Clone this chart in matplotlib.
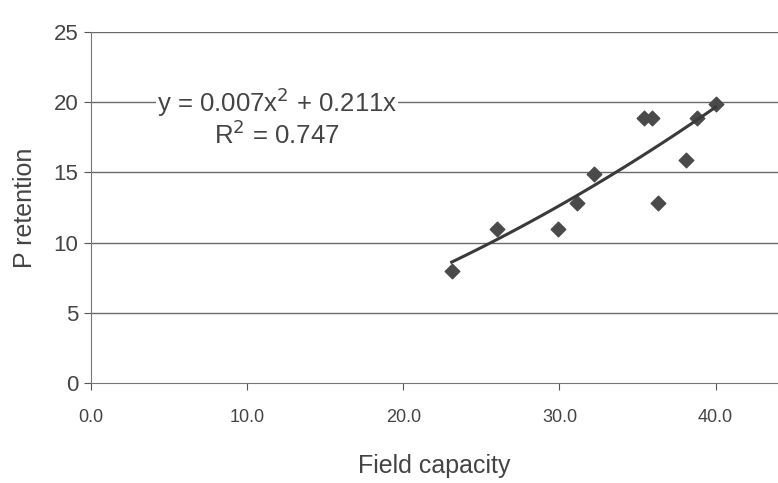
import numpy as np
import matplotlib.pyplot as plt

plt.rcParams['font.family'] = ['Liberation Sans Narrow', 'Liberation Sans', 'DejaVu Sans']

# data
field_capacity = [23.1, 26.0, 29.9, 31.1, 32.2, 35.4, 35.9, 36.3, 38.1, 38.8, 40.0]
p_retention = [8.0, 11.0, 11.0, 12.8, 14.9, 18.9, 18.9, 12.8, 15.9, 18.9, 19.9]
coef_a = 0.007
coef_b = 0.211
r_squared = 0.747

x_ticks = [0, 10, 20, 30, 40]
y_ticks = [0, 5, 10, 15, 20, 25]

fig = plt.figure(figsize=(7.78, 4.83), dpi=100)
ax = fig.add_axes([0.117, 0.207, 0.883, 0.727])

for yt in y_ticks[1:]:
    ax.axhline(yt, color='#6a6a6a', lw=1.0, zorder=1)

ax.scatter(field_capacity, p_retention, marker='D', s=55, color='#4a4a4a',
           edgecolors='#4a4a4a', zorder=3)

xs = np.linspace(min(field_capacity), max(field_capacity), 50)
ax.plot(xs, coef_a * xs ** 2 + coef_b * xs, color='#3a3a3a', lw=2.2, zorder=4)

ax.text(11.9, 20.0, 'y = %.3fx$^2$ + %.3fx' % (coef_a, coef_b), ha='center',
        va='center', fontsize=18.5, color='#444444', zorder=5,
        bbox=dict(facecolor='white', edgecolor='none', pad=0.5))
ax.text(11.9, 17.7, 'R$^2$ = %.3f' % r_squared, ha='center', va='center',
        fontsize=18.5, color='#444444', zorder=5)

ax.set_xlim(0, 44)
ax.set_ylim(0, 25)
ax.set_xticks(x_ticks)
ax.set_xticklabels(['%.1f' % t for t in x_ticks])
ax.set_yticks(y_ticks)

for s in ['top', 'right']:
    ax.spines[s].set_visible(False)
for s in ['left', 'bottom']:
    ax.spines[s].set_color('#777777')
ax.tick_params(axis='x', colors='#555555', labelsize=13, length=5, pad=14,
               labelcolor='#444444')
ax.tick_params(axis='y', colors='#555555', labelsize=16, length=5, pad=4,
               labelcolor='#444444')

ax.set_xlabel('Field capacity', fontsize=18, color='#444444', labelpad=20)
ax.set_ylabel('P retention', fontsize=18, color='#444444', labelpad=12)

plt.savefig('out.png')
